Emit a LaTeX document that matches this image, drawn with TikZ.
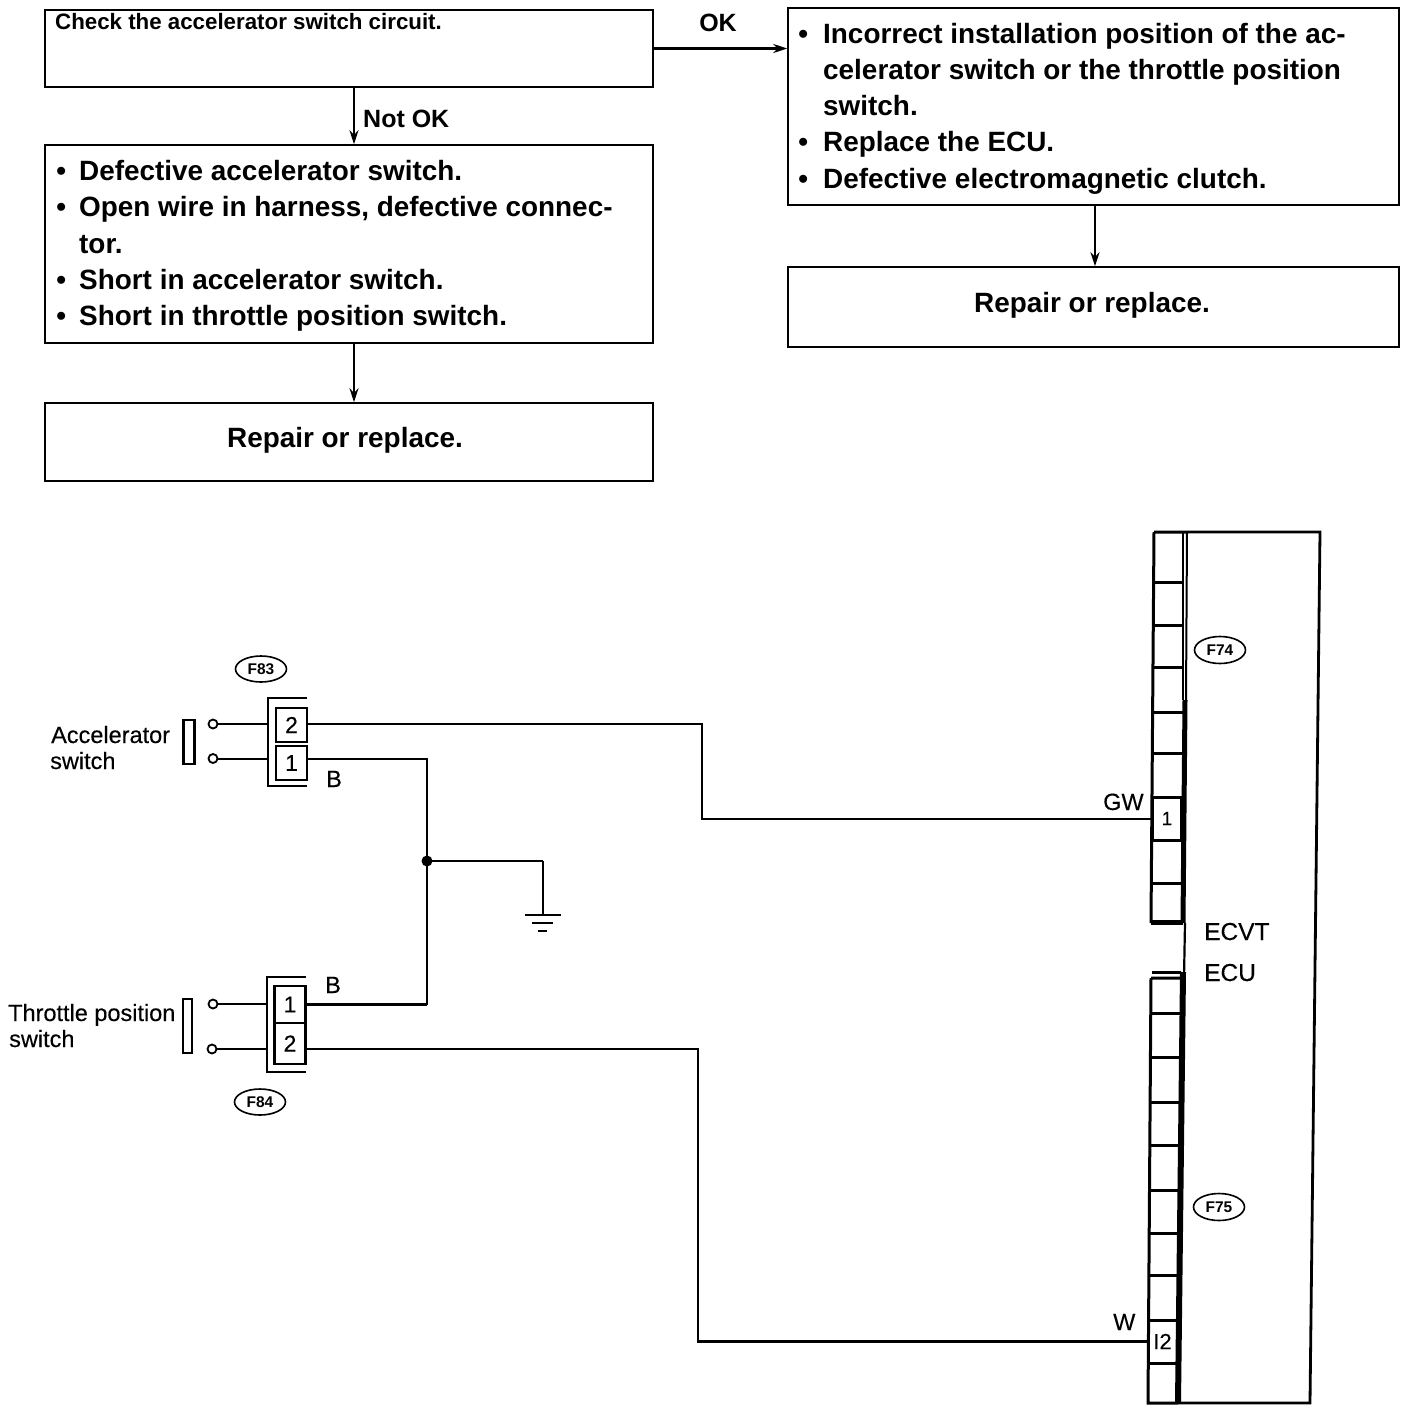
\documentclass[tikz,border=0pt]{standalone}
\usepackage{fontspec}
\setmainfont{Liberation Sans}
\newfontfamily\schemfont[FakeBold=0.25]{Liberation Sans}
\usetikzlibrary{arrows.meta,shapes.geometric,calc}
\newcommand{\bl}[1]{\makebox[0pt][r]{\textbullet\hspace{#1}}}
\tikzset{
  box/.style={draw,line width=1.5pt,inner sep=0pt,minimum width=608pt},
  boxtext/.style={inner sep=0pt,align=left,font=\fontsize{27.9}{36.3}\selectfont\bfseries},
  headtext/.style={inner sep=0pt,anchor=base,font=\fontsize{27.9}{36}\selectfont\bfseries},
  flow/.style={line width=2pt,-{Stealth[length=14pt,width=9pt]}},
  wire/.style={line width=2pt},
  hwire/.style={line width=2.8pt},
  schem/.style={inner sep=0pt,anchor=base west,font=\fontsize{23.5}{26}\schemfont},
  schemb/.style={inner sep=0pt,anchor=base west,font=\fontsize{24.5}{26}\schemfont},
  oval/.style={draw,ellipse,line width=1.6pt,inner sep=0pt,minimum width=51pt,minimum height=26pt,font=\fontsize{15.5}{15.5}\selectfont\bfseries},
  pin/.style={draw,line width=2.8pt,inner sep=0pt,minimum width=31pt,font=\fontsize{23}{23}\schemfont},
  term/.style={draw,circle,line width=1.8pt,fill=white,inner sep=0pt,minimum size=9pt},
  swbar/.style={draw,line width=2.2pt,inner sep=0pt,minimum width=11pt},
  cellline/.style={line width=3pt},
  dot/.style={circle,fill=black,inner sep=0pt,minimum size=11pt}
}
\begin{document}
\begin{tikzpicture}[x=1pt,y=-1pt]
\useasboundingbox (0,0) rectangle (1408,1414);
\fill[white] (0,0) rectangle (1408,1414);
% flowchart
\node[box,minimum height=77pt] (check) at (349,48.5) {};
\node[inner sep=0pt,anchor=base west,font=\fontsize{22.3}{24}\selectfont\bfseries] (checkt) at (55,29) {Check the accelerator switch circuit.};
\node[box,minimum height=198pt] (defect) at (349,244) {};
\node[boxtext,anchor=west] (defectt) at (79,246) {\bl{13pt}Defective accelerator switch.\\\bl{13pt}Open wire in harness, defective connec-\\tor.\\\bl{13pt}Short in accelerator switch.\\\bl{13pt}Short in throttle position switch.};
\node[box,minimum height=78pt] (rep1) at (349,442) {};
\node[headtext] (rep1t) at (345,447) {Repair or replace.};
\node[box,minimum width=611pt,minimum height=197pt] (cause) at (1093.5,106.5) {};
\node[boxtext,anchor=west] (causet) at (823,108.5) {\bl{15pt}Incorrect installation position of the ac-\\celerator switch or the throttle position\\switch.\\\bl{15pt}Replace the ECU.\\\bl{15pt}Defective electromagnetic clutch.};
\node[box,minimum width=611pt,minimum height=80pt] (rep2) at (1093.5,307) {};
\node[headtext] (rep2t) at (1092,312) {Repair or replace.};
\coordinate (xa) at (354,0);
\coordinate (xb) at (1095,0);
\draw[flow] (xa |- check.south) -- (xa |- defect.north);
\draw[flow,line width=1.5pt] (xa |- defect.south) -- (xa |- rep1.north);
\draw[flow] (xb |- cause.south) -- (xb |- rep2.north);
\draw[flow,line width=2.4pt] (check.east) -- (check.east -| cause.west);
\node[inner sep=0pt,anchor=base west,font=\fontsize{25}{30}\selectfont\bfseries] (notok) at (363,127) {Not OK};
\node[inner sep=0pt,anchor=base,font=\fontsize{25}{30}\selectfont\bfseries] (ok) at (718,31) {OK};
% F83 connector
\node[schem] (acc1) at (51,743) {Accelerator};
\node[schem] (acc2) at (50,769) {switch};
\node[swbar,minimum height=44pt] (sw1) at (189,742) {};
\node[oval] (f83) at (261,669) {F83};
\draw[line width=2.8pt] (307,698) -- (268,698) -- (268,786) -- (307,786);
\node[pin,minimum height=34pt] (p2a) at (291.5,725) {2};
\node[pin,minimum height=34pt] (p1a) at (291.5,763) {1};
\node[term] (t2a) at (213,724) {};
\node[term] (t1a) at (213,758.5) {};
\coordinate (c2a) at (268,724);
\coordinate (c1a) at (268,758.5);
\draw[hwire] (t2a) -- (c2a);
\draw[wire] (t1a) -- (c1a);
\node[schem] (ba) at (326,787) {B};
% F84 connector
\node[schem] (thr1) at (8,1021) {Throttle position};
\node[schem] (thr2) at (9,1047) {switch};
\node[swbar,minimum height=54pt,minimum width=9pt] (sw2) at (187.5,1026) {};
\node[oval] (f84) at (260,1102) {F84};
\draw[line width=2.8pt] (306,977) -- (267,977) -- (267,1072) -- (306,1072);
\node[pin,minimum height=37pt] (p1b) at (290,1004.5) {1};
\node[pin,minimum height=41pt] (p2b) at (290,1043.5) {2};
\node[term] (t1b) at (213,1004) {};
\node[term] (t2b) at (212,1049) {};
\coordinate (c1b) at (267,1004);
\coordinate (c2b) at (267,1049);
\draw[wire] (t1b) -- (c1b);
\draw[wire] (t2b) -- (c2b);
\node[schem] (bb) at (325,993) {B};
% ground
\coordinate (jx) at (427,861);
\node[dot] (junc) at (jx) {};
\coordinate (g0) at (543,915);
\draw[wire] (p1a.east |- t1a) -| (jx |- p1b.east);
\draw[hwire] (p1b.east) -- (jx |- p1b.east);
\draw[hwire] (jx) -- (jx -| g0);
\draw[wire] (jx -| g0) -- (g0);
\draw[line width=2.8pt] (525,915) -- (561,915) (532,923) -- (553,923) (538,931) -- (547,931);
% ECU
\draw[line width=2.8pt] (1187,532) -- (1320,532) -- (1310,1403) -- (1178,1403);
\draw[line width=2pt] (1187,532) -- (1186,700);
\draw[line width=5pt] (1185,700) -- (1183,923);
\draw[line width=2.2pt] (1185,923) -- (1184,978);
\draw[line width=6pt] (1183,972) -- (1178,1403);
% F74 block
\draw[cellline] (1154,532) -- (1187,532) (1154,532) -- (1151,923);
\draw[line width=2.2pt] (1183,532) -- (1183,700);
\foreach \y/\a/\b in {582/1154/1183,625/1154/1183,667/1154/1183,712/1153/1183,753/1153/1183,840/1152/1182,883/1152/1182}
  \draw[cellline] (\a,\y) -- (\b,\y);
\draw[line width=5pt] (1151,922) -- (1183,922);
\node[draw,cellline,inner sep=0pt,minimum width=29pt,minimum height=43pt,font=\fontsize{19}{19}\schemfont] (pin1) at (1167,818.5) {1};
% F75 block
\draw[cellline] (1152,972) -- (1181,972);
\draw[cellline] (1151,978) -- (1180,978) (1151,978) -- (1148,1403) -- (1178,1403);
\foreach \y/\a/\b in {1013/1151/1180,1057/1150/1180,1102/1150/1180,1145/1150/1180,1190/1149/1179,1233/1149/1179,1275/1149/1178,1363/1148/1177}
  \draw[cellline] (\a,\y) -- (\b,\y);
\node[draw,cellline,inner sep=0pt,minimum width=29pt,minimum height=43pt,font=\fontsize{22}{22}\schemfont] (pin12) at (1162.5,1341.5) {I2};
\node[oval,minimum height=27pt] (f74) at (1220,650) {F74};
\node[oval,minimum height=27pt] (f75) at (1219,1207) {F75};
\node[schemb] (ecvt) at (1204,940) {ECVT};
\node[schemb] (ecu) at (1204,981) {ECU};
\node[schem] (gw) at (1103,810) {GW};
\node[schem] (w) at (1113,1330) {W};
% long wires
\coordinate (kx1) at (702,0);
\coordinate (kx2) at (698,0);
\draw[wire] (p2a.east |- t2a) -| (kx1 |- pin1.west) -- (pin1.west);
\draw[wire,line width=2.3pt] (p2b.east |- t2b) -| (kx2 |- pin12.west) -- (pin12.west);
\end{tikzpicture}
\end{document}
